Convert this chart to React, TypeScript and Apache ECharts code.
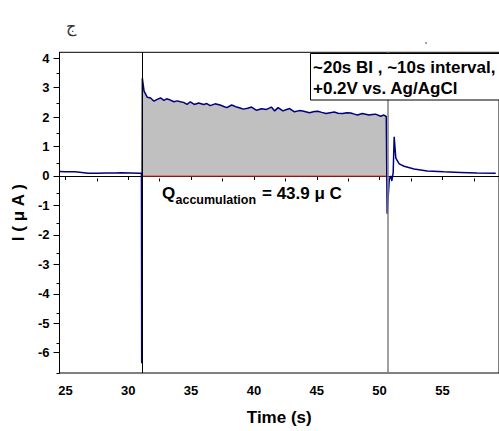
import React, { useEffect, useRef } from "react";
import * as echarts from "echarts";

// Measured trace: time (s) and current (µA)
const timeS = [
  24.53, 25.0, 25.75, 26.3, 26.8, 27.5, 28.3, 29.0, 29.44, 30.2, 30.88, 31.05,
  31.07, 31.12, 31.26, 31.52, 31.78, 32.05, 32.3, 32.57, 32.84, 33.05, 33.23,
  33.63, 33.9, 34.15, 34.4, 34.68, 34.94, 35.25, 35.6, 36.0, 36.25, 36.52,
  36.91, 37.31, 37.6, 37.84, 38.23, 38.63, 38.9, 39.15, 39.5, 39.81, 40.21,
  40.6, 41.0, 41.39, 41.65, 41.92, 42.31, 42.6, 42.84, 43.23, 43.6, 43.89,
  44.42, 44.8, 45.08, 45.4, 45.73, 46.39, 46.7, 47.05, 47.4, 47.71, 48.0,
  48.24, 48.63, 49.16, 49.4, 49.68, 50.08, 50.34, 50.53, 50.6, 50.77, 50.89,
  50.97, 51.08, 51.16, 51.29, 51.56, 51.95, 52.74, 53.79, 55.11, 56.42, 57.74,
  59.24,
];
const currentUA = [
  0.15, 0.14, 0.14, 0.12, 0.09, 0.09, 0.1, 0.1, 0.11, 0.1, 0.09, 0.09,
  -6.36, 3.32, 2.88, 2.67, 2.65, 2.54, 2.6, 2.65, 2.57, 2.62, 2.6,
  2.52, 2.55, 2.52, 2.5, 2.43, 2.52, 2.43, 2.48, 2.43, 2.46, 2.39,
  2.45, 2.41, 2.36, 2.32, 2.41, 2.34, 2.31, 2.27, 2.3, 2.34, 2.23,
  2.28, 2.26, 2.34, 2.21, 2.32, 2.21, 2.26, 2.29, 2.18, 2.22, 2.21,
  2.15, 2.19, 2.2, 2.16, 2.12, 2.17, 2.13, 2.12, 2.15, 2.14, 2.1,
  2.07, 2.12, 2.07, 2.09, 2.1, 2.03, 2.07, 2.02, -1.28, -0.11, 0.0,
  -0.17, 0.11, 1.33, 0.61, 0.41, 0.33, 0.24, 0.17, 0.14, 0.12, 0.1,
  0.09,
];

// Integration window (accumulation) and marker lines
const chargeStart = 31.12;
const chargeEnd = 50.53;
const markerStart = 31.15;
const markerEnd = 50.63;

// Axis ticks
const xTickValues = [25, 30, 35, 40, 45, 50, 55];
const xMinorValues = [27.5, 32.5, 37.5, 42.5, 47.5, 52.5, 57.5];
const yTickValues = [-6, -5, -4, -3, -2, -1, 0, 1, 2, 3, 4];
const yMinorValues = [-6.5, -5.5, -4.5, -3.5, -2.5, -1.5, -0.5, 0.5, 1.5, 2.5, 3.5];

const xMin = 24.53;
const xMax = 59.5;
const yMin = -6.69;
const yMax = 4.2;

const FONT = "'Liberation Sans', Arial, sans-serif";

export default function App() {
  const ref = useRef<HTMLDivElement>(null);

  useEffect(() => {
    if (!ref.current) return;
    const chart = echarts.init(ref.current, undefined, { renderer: "svg" });

    const trace = timeS.map((t, i) => [t, currentUA[i]]);
    const fill = trace.filter((p) => p[0] >= chargeStart && p[0] <= chargeEnd);

    const gridRect = { left: 59.5, top: 52.3, right: -3.2, bottom: 51.7 };

    const option: any = {
      animation: false,
      backgroundColor: "#fff",
      grid: [
        { ...gridRect, show: true, borderColor: "#000", borderWidth: 1, containLabel: false },
        { ...gridRect, show: false, containLabel: false },
      ],
      xAxis: [
        {
          type: "value",
          gridIndex: 0,
          min: xMin,
          max: xMax,
          name: "Time (s)",
          nameLocation: "middle",
          nameGap: 36,
          nameTextStyle: { fontFamily: FONT, fontWeight: "bold", fontSize: 17, color: "#000" },
          axisLine: { show: true, lineStyle: { color: "#000", width: 1 } },
          axisTick: { show: true, customValues: xTickValues, length: 4, lineStyle: { color: "#000" } },
          axisLabel: {
            customValues: xTickValues,
            fontFamily: FONT,
            fontWeight: "bold",
            fontSize: 13,
            color: "#000",
            margin: 11,
          },
          splitLine: { show: false },
        },
        {
          type: "value",
          gridIndex: 1,
          min: xMin,
          max: xMax,
          axisLine: { show: false },
          axisTick: { show: true, customValues: xMinorValues, length: 3, lineStyle: { color: "#000" } },
          axisLabel: { show: false },
          splitLine: { show: false },
        },
      ],
      yAxis: [
        {
          type: "value",
          gridIndex: 0,
          min: yMin,
          max: yMax,
          name: "I ( μ A )",
          nameLocation: "middle",
          nameGap: 29,
          nameTextStyle: { fontFamily: FONT, fontWeight: "bold", fontSize: 17, color: "#000" },
          axisLine: { show: true, lineStyle: { color: "#000", width: 1 } },
          axisTick: { show: true, customValues: yTickValues, length: 6, lineStyle: { color: "#000" } },
          axisLabel: {
            customValues: yTickValues,
            fontFamily: FONT,
            fontWeight: "bold",
            fontSize: 13,
            color: "#000",
            margin: 10,
          },
          splitLine: { show: false },
        },
        {
          type: "value",
          gridIndex: 1,
          min: yMin,
          max: yMax,
          axisLine: { show: false },
          axisTick: { show: true, customValues: yMinorValues, length: 3, lineStyle: { color: "#000" } },
          axisLabel: { show: false },
          splitLine: { show: false },
        },
      ],
      series: [
        {
          type: "line",
          name: "charge",
          data: fill,
          showSymbol: false,
          symbol: "none",
          lineStyle: { width: 0, opacity: 0 },
          areaStyle: { color: "#c0c0c0", opacity: 1 },
          z: 1,
          silent: true,
          markLine: {
            silent: true,
            symbol: ["none", "none"],
            label: { show: false },
            data: [
              { xAxis: markerStart, lineStyle: { color: "#000", width: 1, type: "solid" } },
              { xAxis: markerEnd, lineStyle: { color: "#808080", width: 1.5, type: "solid" } },
            ],
          },
        },
        {
          type: "line",
          name: "baseline",
          data: [
            [chargeStart, 0],
            [chargeEnd, 0],
          ],
          showSymbol: false,
          symbol: "none",
          lineStyle: { color: "#ff3b3b", width: 1 },
          z: 2,
          silent: true,
        },
        {
          type: "line",
          name: "current",
          data: trace,
          showSymbol: false,
          symbol: "none",
          lineStyle: { color: "#000080", width: 1.5 },
          z: 4,
          silent: true,
        },
      ],
      graphic: [
        {
          type: "text",
          left: 66,
          top: 18,
          style: { text: "ج", font: "16px 'DejaVu Sans'", fill: "#333" },
        },
        {
          type: "circle",
          shape: { cx: 426, cy: 43, r: 0.9 },
          style: { fill: "#777" },
        },
        {
          type: "rect",
          shape: { x: 310.5, y: 53.5, width: 200, height: 46.5 },
          style: { fill: "#fff", stroke: "#000", lineWidth: 1 },
          z: 10,
        },
        {
          type: "text",
          x: 313,
          y: 67,
          style: {
            text: "~20s BI , ~10s interval,",
            font: `bold 17px ${FONT}`,
            fill: "#000",
            verticalAlign: "middle",
          },
          z: 11,
        },
        {
          type: "text",
          x: 313,
          y: 88,
          style: {
            text: "+0.2V vs. Ag/AgCl",
            font: `bold 17px ${FONT}`,
            fill: "#000",
            verticalAlign: "middle",
          },
          z: 11,
        },
        {
          type: "text",
          x: 162,
          y: 193,
          style: { text: "Q", font: `bold 17px ${FONT}`, fill: "#000", verticalAlign: "middle" },
          z: 11,
        },
        {
          type: "text",
          x: 175.5,
          y: 200,
          style: { text: "accumulation", font: `bold 12.5px ${FONT}`, fill: "#000", verticalAlign: "middle" },
          z: 11,
        },
        {
          type: "text",
          x: 262,
          y: 193,
          style: { text: "= 43.9 μ C", font: `bold 17px ${FONT}`, fill: "#000", verticalAlign: "middle" },
          z: 11,
        },
      ],
    };

    chart.setOption(option);
    return () => chart.dispose();
  }, []);

  return (
    <div
      ref={ref}
      style={{ position: "fixed", left: 0, top: 0, width: 499, height: 431, background: "#fff" }}
    />
  );
}
